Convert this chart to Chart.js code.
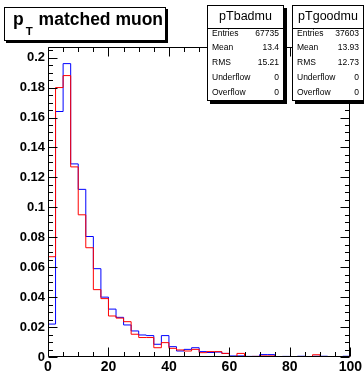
<!DOCTYPE html>
<html><head><meta charset="utf-8">
<script src="https://cdn.jsdelivr.net/npm/chart.js@4/dist/chart.umd.min.js"></script>
<style>
html,body{margin:0;padding:0;background:#fff;}
#wrap{position:relative;width:364px;height:372px;overflow:hidden;font-family:"Liberation Sans",Arial,sans-serif;color:#000;}
#c{position:absolute;left:0;top:0;}
.box{position:absolute;background:#fff;border:1px solid #000;box-sizing:border-box;}
.tbox{left:4px;top:7px;width:162px;height:34px;box-shadow:2px 2px 0 #000;}
.ttext{position:absolute;left:8px;top:1px;font-weight:bold;font-size:17.5px;line-height:20px;white-space:nowrap;}
.ttext sub{font-size:11.5px;vertical-align:-10px;margin-left:2px;margin-right:1px;}
.stats{top:5px;height:96px;box-shadow:3px 3px 0 #000;}
.st{position:absolute;left:0;right:0;top:0;height:22px;border-bottom:1px solid #000;text-align:center;font-size:12.5px;line-height:21px;}
.row{position:absolute;left:4px;right:4px;font-size:8.5px;line-height:12px;height:12px;}
.row .v{position:absolute;right:0;top:0;}
</style></head>
<body><div id="wrap">
<canvas id="c" width="364" height="372"></canvas>
<div class="box tbox"><div class="ttext">p<sub>T</sub> matched muon</div></div>
<div class="box stats" id="s1" style="left:207px;width:77px;"></div>
<div class="box stats" id="s2" style="left:292px;width:72px;"></div>
</div>
<script>
// ---- data ----
const binEdges = [0,2.5,5,7.5,10,12.5,15,17.5,20,22.5,25,27.5,30,32.5,35,37.5,40,42.5,45,47.5,50,52.5,55,57.5,60,62.5,65,67.5,70,72.5,75,77.5,80,82.5,85,87.5,90,92.5,95,97.5,100];
const blueValues = [0.022,0.164,0.196,0.129,0.112,0.0805,0.059,0.040,0.032,0.0265,0.0214,0.0174,0.0147,0.0143,0.0085,0.0143,0.0069,0.0040,0.0051,0.0062,0.0036,0.0030,0.0033,0.0024,0.0007,0.0007,0.0004,0.0004,0.0016,0.0016,0.0002,0.0004,0.0002,0.0005,0.0,0.0005,0.0005,0.0,0.0,0.0005];
const redValues = [0.067,0.180,0.188,0.127,0.095,0.073,0.045,0.039,0.0274,0.0260,0.0236,0.0152,0.0130,0.0130,0.0062,0.0096,0.0058,0.0047,0.0040,0.0051,0.0029,0.0036,0.0036,0.0024,0.0002,0.0024,0.0,0.0004,0.0007,0.0007,0.0,0.0,0.0,0.0,0.0,0.0015,0.0002,0.0003,0.0,0.0002];
const xTickValues = [0,20,40,60,80,100];
const yTickValues = [0,0.02,0.04,0.06,0.08,0.1,0.12,0.14,0.16,0.18,0.2];
const statsLabels = ["Entries","Mean","RMS","Underflow","Overflow"];
const statsBad = ["67735","13.4","15.21","0","0"];
const statsGood = ["37603","13.93","12.73","0","0"];

// ---- stats boxes ----
function fillStats(id, title, vals){
  const el = document.getElementById(id);
  let h = '<div class="st">'+title+'</div>';
  const tops = [26.5,41,56,71,85.5];
  statsLabels.forEach((l,i)=>{ h += '<div class="row" style="top:'+(tops[i]-6)+'px"><span>'+l+'</span><span class="v">'+vals[i]+'</span></div>'; });
  el.innerHTML = h;
}
fillStats('s1','pTbadmu',statsBad);
fillStats('s2','pTgoodmu',statsGood);

function toSteps(vals){
  const pts = vals.map((v,i)=>({x:binEdges[i], y:v}));
  pts.push({x:binEdges[binEdges.length-1], y:vals[vals.length-1]});
  return pts;
}

const rootFrame = {
  id:'rootFrame',
  afterDatasetsDraw(chart){
    const {ctx, chartArea:a, scales:{x,y}} = chart;
    ctx.save();
    ctx.strokeStyle='#000'; ctx.lineWidth=1;
    const L=Math.round(a.left)+0.5, R=Math.round(a.right)-0.5, T=Math.round(a.top)+0.5, B=Math.round(a.bottom)-0.5;
    ctx.beginPath();
    ctx.rect(L,T,R-L,B-T);
    for(let v=0; v<=100.001; v+=5){
      const px=Math.round(x.getPixelForValue(v))+0.5;
      const len = (Math.abs(v%20)<1e-6)?9:4.5;
      ctx.moveTo(px,B); ctx.lineTo(px,B-len);
      ctx.moveTo(px,T); ctx.lineTo(px,T+len);
    }
    for(let k=0; k<=41; k++){
      const v=k*0.005; if(v>y.max) break;
      const py=Math.round(y.getPixelForValue(v))+0.5;
      const len = (k%4===0)?9:4.5;
      ctx.moveTo(L,py); ctx.lineTo(L+len,py);
      ctx.moveTo(R,py); ctx.lineTo(R-len,py);
    }
    ctx.stroke();
    ctx.restore();
  }
};

Chart.defaults.font.family = '"Liberation Sans", Arial, sans-serif';
new Chart(document.getElementById('c'), {
  type:'line',
  data:{datasets:[
    {label:'blue', data:toSteps(blueValues), borderColor:'#0000ff', borderWidth:1, pointRadius:0, stepped:'before', fill:false, order:2},
    {label:'red', data:toSteps(redValues), borderColor:'#ff0000', borderWidth:1, pointRadius:0, stepped:'before', fill:false, order:1}
  ]},
  options:{
    responsive:false, animation:false, devicePixelRatio:1,
    layout:{padding:{top:47,right:12,left:0,bottom:0}},
    plugins:{legend:{display:false}, tooltip:{enabled:false}, title:{display:false}},
    scales:{
      x:{type:'linear', min:0, max:100,
        afterBuildTicks:(s)=>{ s.ticks = xTickValues.map(v=>({value:v})); },
        afterFit:(s)=>{ s.height=15; },
        grid:{display:false, drawTicks:false}, border:{display:false},
        ticks:{color:'#000', font:{size:14, weight:'bold'}, padding:2, maxRotation:0, autoSkip:false,
          callback:(v)=>String(v)}
      },
      y:{type:'linear', min:0, max:0.2071,
        afterBuildTicks:(s)=>{ s.ticks = yTickValues.map(v=>({value:v})); },
        afterFit:(s)=>{ s.width=48; },
        grid:{display:false, drawTicks:false}, border:{display:false},
        ticks:{color:'#000', font:{size:13, weight:'bold'}, padding:3, autoSkip:false,
          callback:(v)=>String(Number(v.toFixed(3)))}
      }
    }
  },
  plugins:[rootFrame]
});
</script>
</body></html>
